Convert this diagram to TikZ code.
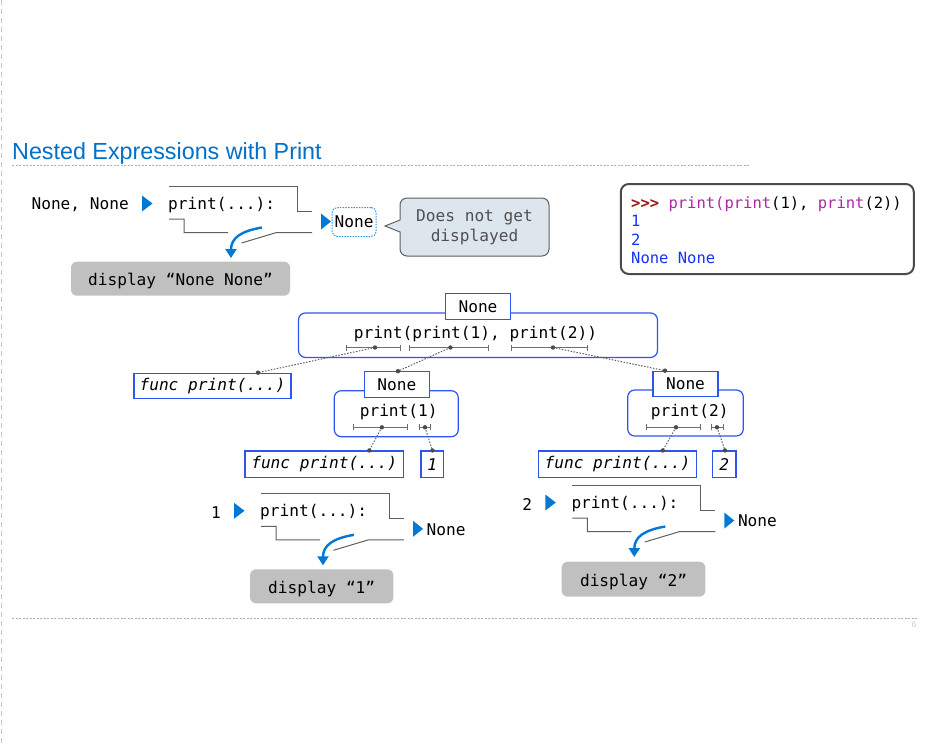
\documentclass[tikz,border=0pt]{standalone}
\usepackage{fontspec}
\setmonofont{DejaVu Sans Mono}[ItalicFont={DejaVu Sans Mono Oblique},BoldFont={DejaVu Sans Mono Bold}]
\newfontfamily\titlefont{Liberation Sans}
\usetikzlibrary{arrows.meta}
\definecolor{framegray}{RGB}{95,95,95}
\definecolor{arrowblue}{RGB}{0,120,212}
\definecolor{boxblue}{RGB}{45,85,240}
\definecolor{dispgray}{RGB}{192,192,192}
\definecolor{bargray}{RGB}{110,110,110}
\definecolor{dotgray}{RGB}{75,75,75}
\definecolor{pagegray}{RGB}{200,200,200}
\definecolor{rulegray}{RGB}{175,175,175}
\definecolor{titleblue}{RGB}{0,112,200}
\definecolor{notefill}{RGB}{221,229,237}
\definecolor{notetext}{RGB}{80,80,80}
\definecolor{termgray}{RGB}{75,75,75}
\definecolor{prompt}{RGB}{160,20,20}
\definecolor{func}{RGB}{170,40,165}
\definecolor{outblue}{RGB}{20,50,250}
\definecolor{dotblue}{RGB}{40,150,230}
\newcommand\codesize{\ttfamily\fontsize{16.15}{19}\selectfont}
\begin{document}
\begin{tikzpicture}[x=1pt, y=-1pt, font=\codesize,
    frame/.style={draw=framegray, line width=1pt},
    tip/.style={fill=arrowblue},
    flow/.style={draw=arrowblue, line width=2.4pt, -{Triangle[length=9pt,width=11pt]}},
    valbox/.style={draw=boxblue, fill=white, line width=1.2pt, inner sep=0pt, minimum height=25.5pt},
    callbox/.style={draw=boxblue, rounded corners=7pt, line width=1.2pt, inner sep=0pt},
    dispbox/.style={fill=dispgray, rounded corners=6pt, minimum height=34pt, inner sep=0pt, text height=14pt, text depth=0pt},
    bar/.style={draw=bargray, line width=0.8pt, {Bar[width=6pt]}-{Bar[width=6pt]}},
    link/.style={draw=framegray, line width=1pt, dash pattern=on 1.5pt off 1.5pt}]
  \useasboundingbox (0,0) rectangle (950,745);
  % slide frame
  \draw[pagegray, line width=1.4pt, dash pattern=on 5pt off 4pt] (1.5,0) -- (1.5,745);
  \node[font=\titlefont\fontsize{23.3}{28}\selectfont, text=titleblue, anchor=base west, inner sep=0pt] (title) at (12,159.5) {Nested Expressions with Print};
  \draw[rulegray, dash pattern=on 2pt off 1.5pt] (12,165.5) -- (750,165.5);
  \draw[rulegray, dash pattern=on 2pt off 1.5pt] (12,618.5) -- (918,618.5);
  \node[font=\titlefont\fontsize{8}{9}\selectfont, text=pagegray] (page) at (914,625) {6};

  % the three print calls
  \foreach \x/\y/\n/\inp in {169/186/a/{None, None}, 261/493.3/b/1, 572.3/485/c/2} {
    \begin{scope}[shift={(\x,\y)}]
      \draw[frame] (0,0) -- (128,0) -- (128,25.5) -- (143,25.5);
      \draw[frame] (0,33) -- (15,33) -- (15,46.5) -- (59,46.5)
                   (72.5,57) -- (107.5,46.5) -- (143,46.5);
      \node[anchor=west, inner sep=0pt] (p\n) at (-1,19) {print(...):};
      \node[anchor=east, inner sep=0pt] (in\n) at (-40,19) {\inp};
      \fill[tip] (-27,9.5) -- (-16.5,17.5) -- (-27,25.5) -- cycle;
      \fill[tip] (152,27.5) -- (162,35.5) -- (152,43.5) -- cycle;
      \node[anchor=west, inner sep=0pt] (out\n) at (165.5,36) {None};
      \draw[flow] (93,41.5) .. controls (72,45) and (62,52) .. (62,72);
    \end{scope}
  }
  \node[draw=dotblue, line width=1pt, dash pattern=on 1.5pt off 1.2pt, rounded corners=5pt,
        minimum width=44pt, minimum height=29pt] (shown) at (outa) {};
  \node[dispbox, minimum width=219pt] (showa) at (180.5,278.7) {display “None None”};
  \node[dispbox, minimum width=143.3pt] (showb) at (321.7,586.3) {display “1”};
  \node[dispbox, minimum width=143.6pt, minimum height=35pt] (showc) at (633.5,579.2) {display “2”};

  % callout
  \filldraw[draw=framegray, fill=notefill, line width=1pt] (400,220) -- (385,226) -- (400,232) -- (400,240)
    [rounded corners=7pt] -- (400,256) -- (549,256) -- (549,198) -- (400,198) -- (400,212)
    [sharp corners] -- (400,220);
  \node[text=notetext, align=center, font=\codesize\fontsize{16.15}{20}\selectfont] (note) at (474.5,227) {Does not get\\displayed};

  % interactive session
  \node[draw=termgray, line width=2pt, rounded corners=8pt, minimum width=293pt, minimum height=90pt] (term) at (767.3,229) {};
  \node[anchor=west, align=left, inner sep=0pt, font=\ttfamily\fontsize{15.5}{18.6}\selectfont] (session) at (631,230.3)
    {\textcolor{prompt}{\textbf{>>>}} \textcolor{func}{print(print}(1), \textcolor{func}{print}(2))\\
     \textcolor{outblue}{1}\\ \textcolor{outblue}{2}\\ \textcolor{outblue}{None None}};

  % expression tree
  \node[callbox, minimum width=359pt, minimum height=44.5pt] (root) at (478,335.2) {};
  \node[inner sep=0pt] (roottext) at (475.5,334) {print(print(1), print(2))};
  \node[valbox, minimum width=64.3pt] (rootval) at (478,306.5) {None};
  \draw[bar] (345.7,347.5) -- (401,347.5) coordinate[pos=.53] (r1);
  \draw[bar] (408.6,347.5) -- (489,347.5) coordinate[pos=.52] (r2);
  \draw[bar] (511,347.5) -- (588,347.5) coordinate[pos=.545] (r3);

  \node[valbox, minimum width=157pt] (fn0) at (212.5,386) {\itshape func print(...)};
  \node[callbox, minimum width=124pt, minimum height=46pt] (call1) at (396.3,413.7) {};
  \node[valbox, minimum width=65pt] (val1) at (396.8,384.5) {None};
  \node[inner sep=0pt] (calltext1) at (398.7,412.5) {print(1)};
  \draw[bar] (352.7,427.3) -- (407.7,427.3) coordinate[pos=.53] (m1);
  \draw[bar] (419,427.3) -- (431,427.3) coordinate[pos=.5] (m2);

  \node[callbox, minimum width=115.6pt, minimum height=46pt] (call2) at (685.5,413) {};
  \node[valbox, minimum width=65pt] (val2) at (685.5,384) {None};
  \node[inner sep=0pt] (calltext2) at (689.7,412) {print(2)};
  \draw[bar] (646,427.3) -- (701,427.3) coordinate[pos=.545] (n1);
  \draw[bar] (710.7,427.3) -- (723.3,427.3) coordinate[pos=.5] (n2);

  \node[valbox, minimum width=158.3pt, minimum height=26.3pt] (fn1) at (324.2,464.2) {\itshape func print(...)};
  \node[valbox, minimum width=22.3pt, minimum height=26.3pt] (arg1) at (432.2,464.2) {\itshape 1};
  \node[valbox, minimum width=158.4pt, minimum height=26.3pt] (fn2) at (617.5,464.2) {\itshape func print(...)};
  \node[valbox, minimum width=23.3pt, minimum height=26.3pt] (arg2) at (724.3,464.2) {\itshape 2};

  \foreach \a/\b/\x in {r1/fn0/258, r2/val1/398, r3/val2/665, m1/fn1/369.3, m2/arg1/432.5, n1/fn2/662.7, n2/arg2/725} {
    \coordinate (\b-d) at (\x,0 |- \b.north);
    \draw[link] (\a) -- (\b-d);
    \fill[dotgray] (\a) circle (2.2pt) (\b-d) circle (2.2pt);
  }
\end{tikzpicture}
\end{document}
